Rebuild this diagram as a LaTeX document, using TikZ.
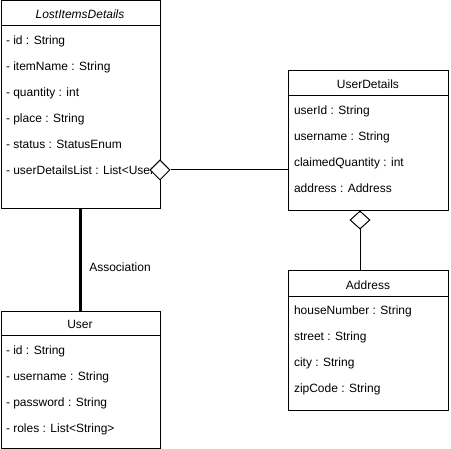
\documentclass[tikz,border=0pt]{standalone}
\usepackage{fontspec}
\setmainfont{Liberation Sans}
\usetikzlibrary{shapes.geometric}

\begin{document}
\begin{tikzpicture}[x=1pt,y=-1pt,line width=1pt,
    every node/.style={font=\fontsize{12pt}{14pt}\selectfont},
    classbox/.style={draw,anchor=north west,inner sep=0pt},
    attr/.style={anchor=west,inner sep=0pt,text height=9pt,text depth=3pt},
    aggr/.style={diamond,draw,fill=white,inner sep=0pt}]
    \useasboundingbox (0,0) rectangle (451,449);

    % LostItemsDetails
    \node[classbox,minimum width=159.5pt,minimum height=207.5pt] (lost) at (0.5,0.5) {};
    \node[font=\fontsize{12pt}{14pt}\selectfont\itshape] (losttitle) at (80,14.5) {LostItemsDetails};
    \draw (0.5,26) -- (160,26);
    \node[attr] (lost1) at (5.5,42) {- id : String};
    \node[attr] (lost2) at (5.5,68) {- itemName : String};
    \node[attr] (lost3) at (5.5,94) {- quantity : int};
    \node[attr] (lost4) at (5.5,120) {- place : String};
    \node[attr] (lost5) at (5.5,146) {- status : StatusEnum};
    \node[attr] (lost6) at (5.5,172) {- userDetailsList : List<User};

    % UserDetails
    \node[classbox,minimum width=160pt,minimum height=140pt] (ud) at (288,70) {};
    \node (udtitle) at (368,84.5) {UserDetails};
    \draw (288,96) -- (448,96);
    \node[attr] (ud1) at (293.5,112) {userId : String};
    \node[attr] (ud2) at (293.5,138) {username : String};
    \node[attr] (ud3) at (293.5,164) {claimedQuantity : int};
    \node[attr] (ud4) at (293.5,190) {address : Address};

    % Address
    \node[classbox,minimum width=160pt,minimum height=140pt] (addr) at (288,270) {};
    \node (addrtitle) at (368,285.5) {Address};
    \draw (288,297) -- (448,297);
    \node[attr] (addr1) at (293.5,312) {houseNumber : String};
    \node[attr] (addr2) at (293.5,338) {street : String};
    \node[attr] (addr3) at (293.5,364) {city : String};
    \node[attr] (addr4) at (293.5,390) {zipCode : String};

    % User
    \node[classbox,minimum width=159.5pt,minimum height=137pt] (user) at (0.5,311) {};
    \node (usertitle) at (80,324.5) {User};
    \draw (0.5,336) -- (160,336);
    \node[attr] (user1) at (5.5,352) {- id : String};
    \node[attr] (user2) at (5.5,378) {- username : String};
    \node[attr] (user3) at (5.5,404) {- password : String};
    \node[attr] (user4) at (5.5,430) {- roles : List<String>};

    % links
    \node[aggr,minimum width=20pt,minimum height=20pt] (lostagg) at (160,170) {};
    \draw (lostagg.east) -- (lostagg.east -| ud.west);
    \node[aggr,minimum width=20pt,minimum height=18pt] (udagg) at (360,220) {};
    \draw (udagg.south) -- (udagg.south |- addr.north);
    \draw[line width=3pt] (lost.south) -- (user.north);
    \node (assoc) at (120,267.5) {Association};
\end{tikzpicture}
\end{document}
